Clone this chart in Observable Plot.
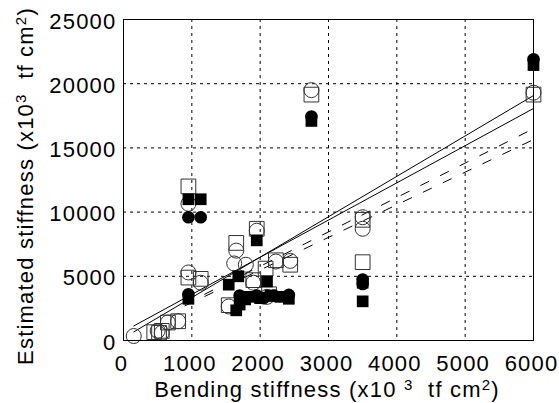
<!DOCTYPE html>
<html><head><meta charset="utf-8">
<script src="https://cdn.jsdelivr.net/npm/d3@7"></script>
<script src="https://cdn.jsdelivr.net/npm/@observablehq/plot@0.6"></script>
<style>
body{margin:0;background:#fff}
svg text{font-family:"Liberation Sans",Arial,sans-serif;letter-spacing:1.2px}
</style>
</head><body><div id="chart"></div>
<script>
const xTicks = [0,1000,2000,3000,4000,5000,6000];
const yTicks = [0,5000,10000,15000,20000,25000];

const openCircles = [[150,350],[500,750],[560,600],[650,1400],[800,1500],[950,10650],[950,5300],[1130,4500],[1540,2650],[1650,7000],[1620,6000],[1790,5900],[1900,4500],[1950,8550],[2100,3400],[2230,6150],[2440,6200],[2750,19500],[3500,9600],[3500,8700],[6000,19300]];
const openSquares = [[450,650],[520,600],[560,750],[650,1400],[800,1500],[950,12000],[950,4900],[1130,4800],[1540,2750],[1650,7600],[1900,4700],[1950,8700],[2080,5600],[2130,3600],[2230,6250],[2440,5900],[2750,19150],[3500,9400],[3500,6100],[6000,19150]];
const filledCircles = [[950,9600],[1130,9600],[950,3600],[1700,3500],[1800,3300],[1950,3500],[2050,3300],[2200,3500],[2420,3550],[2750,17450],[3500,4750],[3500,4400],[6000,21900]];
const filledSquares = [[950,11000],[1130,11000],[950,3250],[1540,4350],[1650,2350],[1680,5000],[1700,2800],[1780,3200],[1850,3400],[1950,7800],[2000,3300],[2100,4600],[2150,3500],[2300,3400],[2420,3250],[2750,17100],[3500,4500],[3500,3050],[6000,21450]];

const solidUpper = [[150,670],[6000,19080]];
const solidLower = [[150,1130],[6000,18070]];
const dashedUpper = [[900,2830],[6000,16500]];
const dashedLower = [[900,2700],[6000,15650]];

const X = d => d[0], Y = d => d[1];

const chart = Plot.plot({
  width: 559, height: 403,
  marginLeft: 123, marginRight: 26, marginTop: 19, marginBottom: 63,
  style: {fontSize: "22px", fontFamily: "Liberation Sans, Arial, sans-serif", color: "#000", background: "#fff"},
  x: {domain: [0, 6000], ticks: xTicks, tickSize: 0, tickPadding: 15, tickFormat: d3.format("d"), label: null},
  y: {domain: [0, 25000], ticks: yTicks, tickSize: 0, tickPadding: 8, tickFormat: d3.format("d"), label: null},
  marks: [
    Plot.ruleX(xTicks.slice(1, -1), {stroke: "#000", strokeWidth: 1, strokeDasharray: "3,4"}),
    Plot.ruleY(yTicks.slice(1, -1), {stroke: "#000", strokeWidth: 1, strokeDasharray: "3,4"}),
    Plot.line(solidUpper, {x: X, y: Y, stroke: "#000", strokeWidth: 1}),
    Plot.line(solidLower, {x: X, y: Y, stroke: "#000", strokeWidth: 1}),
    Plot.line(dashedUpper, {x: X, y: Y, stroke: "#000", strokeWidth: 1, strokeDasharray: "9,13"}),
    Plot.line(dashedLower, {x: X, y: Y, stroke: "#000", strokeWidth: 1, strokeDasharray: "9,13"}),
    Plot.dot(openSquares, {x: X, y: Y, symbol: "square", r: 8.3, stroke: "#333", strokeWidth: 1, fill: "none"}),
    Plot.dot(openCircles, {x: X, y: Y, symbol: "circle", r: 7.5, stroke: "#333", strokeWidth: 1, fill: "none"}),
    Plot.dot(filledSquares, {x: X, y: Y, symbol: "square", r: 6.6, fill: "#000", stroke: "none"}),
    Plot.dot(filledCircles, {x: X, y: Y, symbol: "circle", r: 6.3, fill: "#000", stroke: "none"}),
    Plot.axisX({ticks: xTicks, tickSize: 0, tickPadding: 15, dx: -2, tickFormat: d3.format("d"), label: null}),
    Plot.axisY({ticks: yTicks, tickSize: 0, tickPadding: 7, dy: 2, tickFormat: d3.format("d"), label: null}),
    Plot.frame({stroke: "#000", strokeWidth: 1})
  ]
});
document.getElementById("chart").appendChild(chart);

const svg = d3.select(chart);
const xl = svg.append("text")
  .attr("x", 327).attr("y", 397)
  .attr("text-anchor", "middle")
  .attr("font-size", 22).attr("fill", "#000")
  .style("white-space", "pre");
xl.append("tspan").text("Bending stiffness (x10 ");
xl.append("tspan").attr("font-size", 15).attr("dy", -7).text("3");
xl.append("tspan").attr("dy", 7).text("  tf cm");
xl.append("tspan").attr("font-size", 15).attr("dy", -7).text("2");
xl.append("tspan").attr("dy", 7).text(")");

const yl = svg.append("text")
  .attr("transform", "translate(33,186) rotate(-90)")
  .attr("text-anchor", "middle")
  .attr("font-size", 22).attr("fill", "#000")
  .style("white-space", "pre");
yl.append("tspan").text("Estimated stiffness (x10");
yl.append("tspan").attr("font-size", 15).attr("dy", -7).text("3");
yl.append("tspan").attr("dy", 7).text("  tf cm");
yl.append("tspan").attr("font-size", 15).attr("dy", -7).text("2");
yl.append("tspan").attr("dy", 7).text(")");
</script>
</body></html>
